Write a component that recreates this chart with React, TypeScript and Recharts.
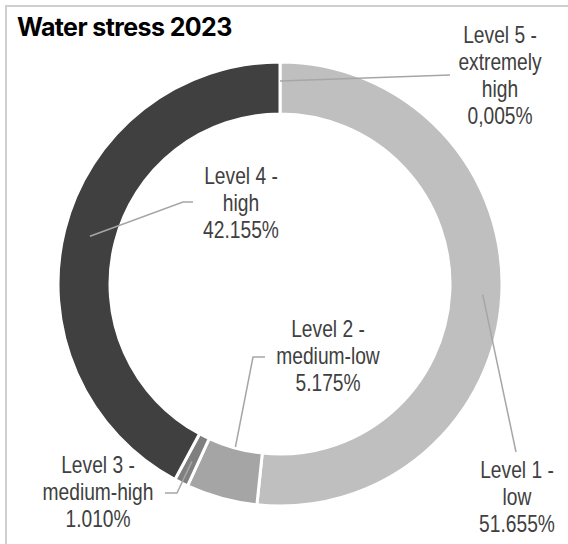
import React from "react";
import { PieChart, Pie, Cell } from "recharts";

// clockwise from 12 o'clock
const levels = ["Level 5", "Level 1", "Level 2", "Level 3", "Level 4"];
const shares = [0.005, 51.655, 5.175, 1.01, 42.155];
const shareLabels = ["0,005%", "51.655%", "5.175%", "1.010%", "42.155%"];
const labelLines = [
  ["Level 5 -", "extremely", "high"],
  ["Level 1 -", "low"],
  ["Level 2 -", "medium-low"],
  ["Level 3 -", "medium-high"],
  ["Level 4 -", "high"],
];
const colors = ["#d9d9d9", "#bfbfbf", "#a5a5a5", "#7f7f7f", "#404040"];

const data = levels.map((name, i) => ({ name, value: shares[i] }));

const CX = 275;
const CY = 279;
const OUTER = 222;
const INNER = 170;
const RAD = Math.PI / 180;

// label placement, relative to the pie centre (text x = centre, y = first baseline)
const labelLayout = [
  { tx: 220, ty: -241, path: [[170, -209]], endR: 203 },
  { tx: 237, ty: 194, path: [[236, 168]], endR: 203 },
  { tx: 48, ty: 53, path: [[-15, 73], [-27, 73]], endR: 169 },
  { tx: -182, ty: 189, path: [[-115, 209], [-103, 209]], endR: 198 },
  { tx: -39, ty: -100, path: [[-87, -82], [-97, -82]], endR: 196 },
];

// no narrow face installed, so squeeze Liberation Sans horizontally
const FONT = "'Liberation Sans Narrow', 'Liberation Sans', Arial, sans-serif";
const SQUEEZE = 0.8;

function renderLabel(props: any) {
  const { cx, cy, midAngle, index } = props;
  const lay = labelLayout[index];
  const ex = cx + lay.endR * Math.cos(-midAngle * RAD);
  const ey = cy + lay.endR * Math.sin(-midAngle * RAD);
  const pts = lay.path.map(([x, y]) => `${cx + x},${cy + y}`).concat(`${ex},${ey}`);
  const lines = [...labelLines[index], shareLabels[index]];
  return (
    <g key={`lbl-${index}`}>
      <polyline points={pts.join(" ")} fill="none" stroke="#a6a6a6" strokeWidth={1.5} />
      <g transform={`translate(${cx + lay.tx},${cy + lay.ty}) scale(${SQUEEZE},1)`}>
        <text x={0} y={0} textAnchor="middle" fill="#404040" fontFamily={FONT} fontSize={24}>
          {lines.map((l, k) => (
            <tspan key={k} x={0} dy={k === 0 ? 0 : 27}>
              {l}
            </tspan>
          ))}
        </text>
      </g>
    </g>
  );
}

export default function App() {
  return (
    <div
      style={{
        position: "absolute",
        left: 0,
        top: 0,
        width: 568,
        height: 544,
        background: "#fff",
        overflow: "hidden",
      }}
    >
      <div
        style={{
          position: "absolute",
          left: 5,
          top: 5,
          right: -10,
          bottom: -10,
          borderLeft: "2px solid #cfcfcf",
          borderTop: "2px solid #cfcfcf",
        }}
      />
      <div
        style={{
          position: "absolute",
          left: 17,
          top: 12,
          fontFamily: "Inter, 'Liberation Sans', Arial, sans-serif",
          fontWeight: 700,
          fontSize: 25,
          letterSpacing: -0.6,
          color: "#000",
          lineHeight: "30px",
        }}
      >
        Water stress 2023
      </div>
      <div style={{ position: "absolute", left: 0, top: 0 }}>
        <PieChart width={568} height={544}>
          <Pie
            data={data}
            dataKey="value"
            nameKey="name"
            cx={CX}
            cy={CY}
            innerRadius={INNER}
            outerRadius={OUTER}
            startAngle={90}
            endAngle={-270}
            stroke="#ffffff"
            strokeWidth={3}
            label={renderLabel}
            labelLine={false}
            isAnimationActive={false}
          >
            {data.map((d, i) => (
              <Cell key={d.name} fill={colors[i]} />
            ))}
          </Pie>
        </PieChart>
      </div>
    </div>
  );
}
